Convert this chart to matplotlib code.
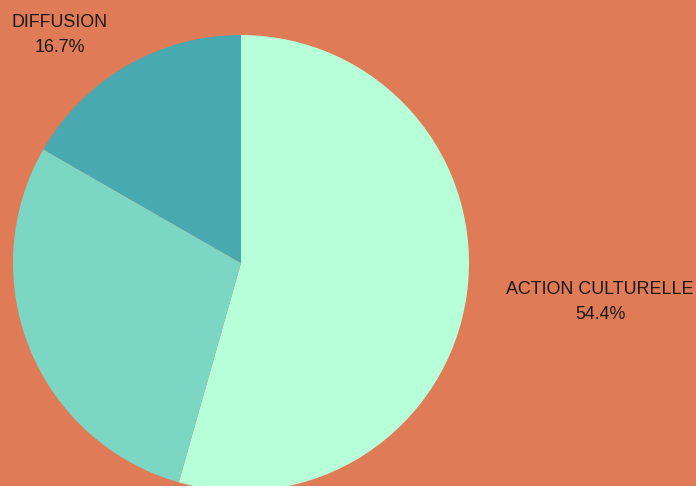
import matplotlib.pyplot as plt

categories = ['ACTION CULTURELLE', '', 'DIFFUSION']
shares = [54.4, 28.9, 16.7]
colors = ['#b6ffd8', '#7bd6c4', '#49a9b0']

# label centres in data coords (pie radius = 1)
label_pos = [(1.575, -0.17), None, (-0.795, 1.0)]

plt.rcParams['font.family'] = ['Liberation Sans', 'DejaVu Sans']

fig = plt.figure(figsize=(6.96, 4.86), dpi=100)
fig.patch.set_facecolor('#e07b57')

ax = fig.add_axes([13 / 696, -5 / 486, 456 / 696, 456 / 486])
ax.set_facecolor('none')
ax.pie(shares, colors=colors, startangle=90, counterclock=False,
       radius=1, wedgeprops={'linewidth': 0})
ax.set_xlim(-1, 1)
ax.set_ylim(-1, 1)
ax.set_aspect('equal')
ax.axis('off')

for name, val, pos in zip(categories, shares, label_pos):
    if pos is None or not name:
        continue
    ax.text(pos[0], pos[1], '{}\n{:.1f}%'.format(name, val), ha='center', va='center',
            fontsize=12.9, color='#1a1a1a', linespacing=1.6, clip_on=False)

fig.savefig('out.png', dpi=100, facecolor=fig.get_facecolor())
